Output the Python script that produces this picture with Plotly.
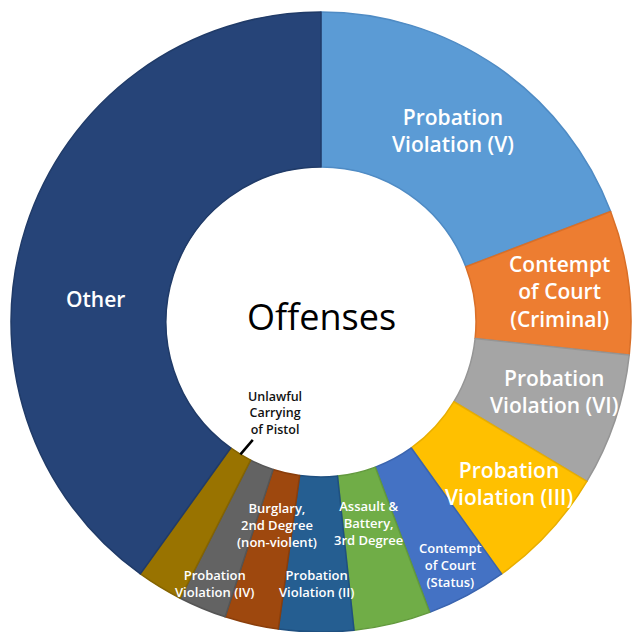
import math
import plotly.graph_objects as go

# Share of offenses (percent), clockwise from 12 o'clock
categories = [
    "Probation Violation (V)",
    "Contempt of Court (Criminal)",
    "Probation Violation (VI)",
    "Probation Violation (III)",
    "Contempt of Court (Status)",
    "Assault & Battery, 3rd Degree",
    "Probation Violation (II)",
    "Burglary, 2nd Degree (non-violent)",
    "Probation Violation (IV)",
    "Unlawful Carrying of Pistol",
    "Other",
]
shares = [19.2, 7.5, 6.9, 6.5, 4.2, 4.0, 3.9, 2.8, 2.5, 2.4, 40.1]

# Wrapped label text drawn on the ring
label_text = [
    "Probation<br>Violation (V)",
    "Contempt<br>of Court<br>(Criminal)",
    "Probation<br>Violation (VI)",
    "Probation<br>Violation (III)",
    "Contempt<br>of Court<br>(Status)",
    "Assault &<br>Battery,<br>3rd Degree",
    "Probation<br>Violation (II)",
    "Burglary,<br>2nd Degree<br>(non-violent)",
    "Probation<br>Violation (IV)",
    "Unlawful<br>Carrying<br>of Pistol",
    "Other",
]

# Styling
colors = ["#5B9BD5", "#ED7D31", "#A5A5A5", "#FFC000", "#4472C4", "#70AD47",
          "#255E91", "#9E480E", "#636363", "#997300", "#264478"]
edge_colors = ["#4F8BC4", "#D96F28", "#959595", "#E8AE00", "#3A64AF", "#62993D",
               "#1F5080", "#8A3E0B", "#555555", "#856400", "#203B68"]
label_size = [21, 21, 21, 21, 13, 13, 13, 13, 13, 12.5, 21]
label_radius = [0.75, 0.775, 0.785, 0.80, 0.89, 0.665, 0.845, 0.67, 0.91, 0.0, 0.73]
label_angle_shift = [0, 0, -2, -2, 0, 0, 0, -0.8, -0.3, 0, -12]

W = H = 632
dom_x = [10 / W, 1.0]
dom_y = [0.0, 620 / H]
cx = (dom_x[0] + dom_x[1]) / 2 * W
cy = (dom_y[0] + dom_y[1]) / 2 * H          # measured from bottom
R = min((dom_x[1] - dom_x[0]) * W, (dom_y[1] - dom_y[0]) * H) / 2
HOLE = 0.5

fig = go.Figure(go.Pie(
    labels=categories,
    values=shares,
    sort=False,
    direction="clockwise",
    rotation=0,
    hole=HOLE,
    marker=dict(colors=colors, line=dict(color=edge_colors, width=1.5)),
    textinfo="none",
    hoverinfo="label+percent",
    domain=dict(x=dom_x, y=dom_y),
    showlegend=False,
))


def to_paper(angle_deg, r_px):
    a = math.radians(angle_deg)
    x = cx + r_px * math.sin(a)
    y = cy + r_px * math.cos(a)
    return x / W, y / H


total = sum(shares)
start = 0.0
annotations = []
for i, v in enumerate(shares):
    span = v / total * 360.0
    mid = start + span / 2 + label_angle_shift[i]
    start += span
    if categories[i] == "Unlawful Carrying of Pistol":
        # label sitting in the hole with a leader line to its thin slice
        px, py = to_paper(mid, R * HOLE)
        annotations.append(dict(
            x=px, y=py, xref="paper", yref="paper",
            text=label_text[i], showarrow=True, arrowhead=0, arrowwidth=2.5,
            arrowcolor="#000000", ax=35, ay=-41, standoff=0,
            font=dict(family="Open Sans", size=label_size[i], color="#111111", weight=600),
        ))
        continue
    px, py = to_paper(mid, R * label_radius[i])
    annotations.append(dict(
        x=px, y=py, xref="paper", yref="paper", showarrow=False,
        xanchor="center", yanchor="middle",
        text=label_text[i], align="center",
        font=dict(family="Open Sans", size=label_size[i], color="#FFFFFF", weight=600),
    ))

# Title in the middle of the ring
annotations.append(dict(
    x=cx / W, y=(cy + 6) / H, xref="paper", yref="paper", showarrow=False,
    xanchor="center", yanchor="middle",
    text="Offenses", font=dict(family="Open Sans", size=36, color="#000000"),
))

fig.update_layout(
    width=W, height=H,
    margin=dict(l=0, r=0, t=0, b=0),
    paper_bgcolor="#FFFFFF",
    plot_bgcolor="#FFFFFF",
    annotations=annotations,
)

fig.write_html("out.html")
